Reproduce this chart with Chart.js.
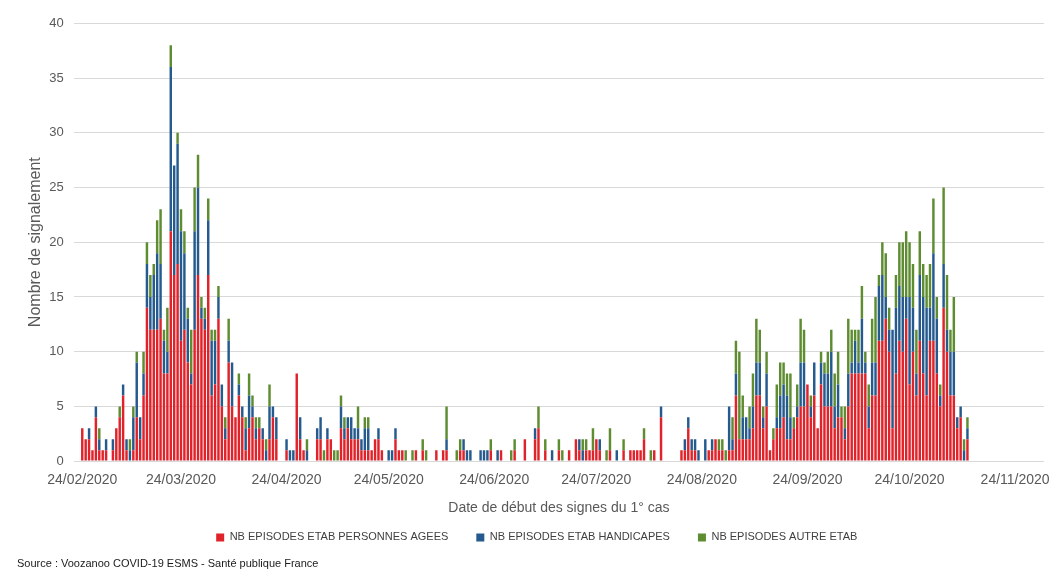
<!DOCTYPE html>
<html lang="fr">
<head>
<meta charset="UTF-8">
<title>Episodes COVID-19 en ESMS</title>
<script src="https://cdn.jsdelivr.net/npm/chart.js"></script>
<style>
  body { margin: 0; background: #fff; }
  #wrap { width: 1061px; height: 580px; }
</style>
</head>
<body>
<div id="wrap"><canvas id="chart" width="1061" height="580"></canvas></div>
<script>
// Nombre d'episodes par jour, a partir du 24/02/2020 (un chiffre par jour)
const seriesNames = ['NB EPISODES ETAB PERSONNES AGEES', 'NB EPISODES ETAB HANDICAPES', 'NB EPISODES AUTRE ETAB'];

const agees = [
  3,2,2,1,4,1,1,1,0,1, 3,4,6,1,0,1,4,2,6,14, 12,12,12,13,8,8,21,17,18,11,
  12,9,7,12,17,13,12,17,6,7, 13,5,2,9,5,4,6,4,1,3, 4,2,3,2,0,2,4,2,0,0,
  1,0,0,8,2,1,0,0,0,2, 2,0,2,2,0,0,3,2,3,2, 2,2,1,1,1,1,2,2,1,0,
  0,0,2,1,1,0,0,0,1,0, 1,0,0,0,1,0,1,1,0,0, 0,1,1,0,0,0,0,0,0,0,
  1,0,0,1,0,0,0,1,0,0, 2,0,0,2,3,0,1,0,0,0, 1,0,0,1,0,2,1,0,1,1,
  1,2,1,0,0,1,0,0,0,1, 0,1,1,1,1,2,0,0,1,0, 4,0,0,0,0,0,1,1,3,1,
  1,0,0,0,1,1,2,1,1,0, 1,1,6,2,2,2,2,3,6,6, 3,5,1,2,3,3,4,2,2,3,
  4,5,5,7,4,6,3,7,5,5, 5,3,4,4,2,5,8,8,8,8, 8,3,6,6,11,11,13,10,3,8,
  11,10,13,7,10,6,11,8,6,11, 11,8,5,14,10,6,6,3,4,0, 2
];
const handicapes = [
  0,0,1,0,1,1,0,1,0,1, 0,0,1,1,1,3,5,2,2,4, 3,5,7,5,3,2,15,10,11,10,
  7,4,1,9,8,1,1,5,5,4, 2,2,1,2,4,0,1,1,2,3, 1,1,0,1,1,3,1,2,0,0,
  1,1,1,0,2,0,1,0,0,1, 2,0,1,0,0,0,2,1,1,2, 1,1,1,2,2,0,0,1,0,0,
  1,1,1,0,0,0,0,0,0,0, 0,0,0,0,0,0,0,1,0,0, 0,0,1,1,1,0,0,1,1,1,
  0,0,1,0,0,0,0,0,0,0, 0,0,0,1,0,0,0,0,1,0, 0,0,0,0,0,0,1,1,0,0,
  0,0,1,0,0,0,0,1,0,0, 0,0,0,0,0,0,0,0,0,0, 1,0,0,0,0,0,0,1,1,1,
  1,1,0,2,0,1,0,0,0,0, 4,1,2,0,2,2,1,2,3,3, 1,3,0,0,1,3,3,4,2,0,
  1,4,4,0,1,3,0,2,3,3, 5,2,3,0,1,3,1,3,1,5, 1,2,3,3,5,6,2,2,9,6,
  5,5,2,8,4,2,6,7,8,3, 8,5,1,4,2,4,4,1,1,1, 1
];
const autres = [
  0,0,0,0,0,1,0,0,0,0, 0,1,0,0,1,1,1,0,2,2, 2,1,3,5,1,4,2,0,1,2,
  2,1,4,4,3,1,1,2,1,1, 1,0,1,2,0,0,1,0,1,2, 1,1,1,0,1,2,0,0,0,0,
  0,0,0,0,0,0,1,0,0,0, 0,1,0,0,1,1,1,1,0,0, 0,2,0,1,1,0,0,0,0,0,
  0,0,0,0,0,1,0,1,0,0, 1,1,0,0,0,0,0,3,0,0, 1,1,0,0,0,0,0,0,0,0,
  1,0,0,0,0,0,1,1,0,0, 0,0,0,0,2,0,1,0,0,0, 1,1,0,0,0,0,0,1,1,0,
  2,0,0,0,1,2,0,0,0,1, 0,0,0,0,0,1,0,1,0,0, 0,0,0,0,0,0,0,0,0,0,
  0,0,0,0,0,0,0,1,1,1, 0,2,3,8,2,0,2,3,4,3, 1,2,0,1,3,3,2,2,4,1,
  2,4,3,0,1,0,0,1,1,2, 2,3,3,1,2,5,3,1,3,3, 1,2,4,6,1,3,4,2,0,3,
  4,5,6,5,4,4,4,3,3,4, 5,2,1,7,5,2,5,0,0,1, 1
];

const tickLabels = ['24/02/2020', '24/03/2020', '24/04/2020', '24/05/2020', '24/06/2020',
  '24/07/2020', '24/08/2020', '24/09/2020', '24/10/2020', '24/11/2020'];

const sourceText = 'Source : Voozanoo COVID-19 ESMS - Santé publique France';

// axe des dates : du 22/02 au 03/12, un jour par categorie
const leadDays = 2;
const nbDays = 285;
const days = [];
for (let i = 0; i < nbDays; i++) {
  const d = new Date(2020, 1, 24 - leadDays + i);
  days.push(String(d.getDate()).padStart(2, '0') + '/' + String(d.getMonth() + 1).padStart(2, '0') + '/' + d.getFullYear());
}
const shift = arr => Array(leadDays).fill(null).concat(arr);

const font = "'Liberation Sans', Arial, sans-serif";

const sourcePlugin = {
  id: 'source',
  afterDraw(chart) {
    const ctx = chart.ctx;
    ctx.save();
    ctx.font = '11px ' + font;
    ctx.fillStyle = '#1a1a1a';
    ctx.textBaseline = 'middle';
    ctx.fillText(sourceText, 17, 564);
    ctx.restore();
  }
};

new Chart(document.getElementById('chart'), {
  type: 'bar',
  data: {
    labels: days,
    datasets: [
      { label: seriesNames[0], data: shift(agees), backgroundColor: '#e0232a' },
      { label: seriesNames[1], data: shift(handicapes), backgroundColor: '#255a8e' },
      { label: seriesNames[2], data: shift(autres), backgroundColor: '#5e8c31' }
    ]
  },
  options: {
    responsive: false,
    animation: false,
    barPercentage: 0.72,
    categoryPercentage: 1,
    layout: { padding: { left: 25, right: 12.5, top: 23.3, bottom: 27.1 } },
    plugins: {
      legend: {
        position: 'bottom',
        labels: {
          boxWidth: 8,
          boxHeight: 8,
          padding: 28,
          color: '#404040',
          font: { family: font, size: 11 }
        }
      },
      tooltip: { enabled: false }
    },
    scales: {
      x: {
        stacked: true,
        grid: { display: false, drawTicks: false },
        border: { display: false },
        ticks: {
          autoSkip: false,
          maxRotation: 0,
          padding: 11,
          color: '#595959',
          font: { family: font, size: 14 },
          callback(v) {
            const l = this.getLabelForValue(v);
            return tickLabels.includes(l) ? l : null;
          }
        },
        title: {
          display: true,
          text: 'Date de début des signes du 1° cas',
          color: '#595959',
          font: { family: font, size: 14 },
          padding: { top: 0, bottom: -13 }
        },
        afterFit(s) { s.height = 42.8; }
      },
      y: {
        stacked: true,
        min: 0,
        max: 40,
        grid: { color: '#d9d9d9', drawTicks: false },
        border: { display: false },
        ticks: {
          stepSize: 5,
          padding: 10,
          color: '#595959',
          font: { family: font, size: 13 }
        },
        title: {
          display: true,
          text: 'Nombre de signalement',
          color: '#595959',
          font: { family: font, size: 16 },
          padding: { top: 1, bottom: 0 }
        },
        afterFit(s) { s.width = 48.75; }
      }
    }
  },
  plugins: [sourcePlugin]
});
</script>
</body>
</html>
